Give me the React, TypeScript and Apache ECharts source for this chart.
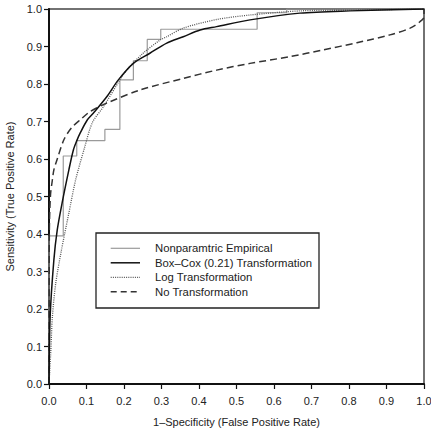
import React, { useEffect, useRef } from "react";
import * as echarts from "echarts";

// Empirical (step) ROC vertices
const fprEmpirical = [0, 0, 0.038, 0.074, 0.149, 0.189, 0.225, 0.262, 0.298, 0.555, 0.634, 1.0];
const tprEmpirical = [0, 0.395, 0.608, 0.649, 0.679, 0.811, 0.862, 0.919, 0.946, 0.99, 1.0, 1.0];

// Box-Cox (0.21) smooth ROC
const fprBoxCox = [0, 0.003, 0.013, 0.022, 0.035, 0.053, 0.065, 0.075, 0.083, 0.102, 0.118, 0.154, 0.185, 0.225, 0.269, 0.314, 0.358, 0.403, 0.447, 0.536, 0.669, 0.803, 1.0];
const tprBoxCox = [0, 0.179, 0.331, 0.411, 0.483, 0.571, 0.624, 0.651, 0.669, 0.704, 0.722, 0.766, 0.811, 0.855, 0.882, 0.909, 0.926, 0.944, 0.953, 0.971, 0.989, 0.995, 1.0];

// Log transformation ROC
const fprLog = [0, 0.005, 0.009, 0.018, 0.033, 0.053, 0.071, 0.095, 0.116, 0.145, 0.189, 0.207, 0.251, 0.296, 0.314, 0.358, 0.447, 0.536, 0.669, 0.803, 1.0];
const tprLog = [0, 0.091, 0.179, 0.269, 0.356, 0.456, 0.544, 0.631, 0.698, 0.739, 0.811, 0.837, 0.882, 0.917, 0.926, 0.949, 0.972, 0.984, 0.995, 0.997, 1.0];

// Untransformed ROC
const fprNone = [0, 0.0005, 0.001, 0.004, 0.009, 0.013, 0.022, 0.04, 0.06, 0.085, 0.109, 0.154, 0.243, 0.358, 0.447, 0.536, 0.643, 0.731, 0.821, 0.909, 0.963, 0.989, 1.0, 1.0];
const tprNone = [0, 0.224, 0.411, 0.504, 0.544, 0.571, 0.6, 0.652, 0.683, 0.706, 0.726, 0.749, 0.784, 0.815, 0.837, 0.855, 0.873, 0.891, 0.91, 0.931, 0.949, 0.966, 0.979, 1.0];

const seriesNames = [
  "Nonparamtric Empirical",
  "Box\u2013Cox (0.21) Transformation",
  "Log Transformation",
  "No Transformation",
];

const axisTicks = [0, 0.1, 0.2, 0.3, 0.4, 0.5, 0.6, 0.7, 0.8, 0.9, 1.0];

const FONT = "'Liberation Sans', Arial, sans-serif";

// Line looks shared by the plotted series and the hand-drawn key
const lineLooks = [
  { color: "#9a9a9a", width: 1.2, dash: null as number[] | null },
  { color: "#111", width: 1.5, dash: null as number[] | null },
  { color: "#555", width: 1.3, dash: [1, 1.2] },
  { color: "#333", width: 1.5, dash: [7, 4] },
];

const zip = (xs: number[], ys: number[]) => xs.map((x, i) => [x, ys[i]]);

export default function App() {
  const ref = useRef<HTMLDivElement>(null);

  useEffect(() => {
    if (!ref.current) return;
    const chart = echarts.init(ref.current, undefined, { renderer: "svg" });

    const axisCommon = {
      type: "value" as const,
      min: axisTicks[0],
      max: axisTicks[axisTicks.length - 1],
      interval: 0.1,
      nameLocation: "middle" as const,
      nameTextStyle: { fontFamily: FONT, fontSize: 11, color: "#222" },
      axisLine: { show: true, lineStyle: { color: "#111", width: 2 } },
      axisTick: { show: true, inside: false, length: 5, lineStyle: { color: "#111", width: 1.2 } },
      axisLabel: {
        fontFamily: FONT,
        fontSize: 11,
        color: "#222",
        formatter: (v: number) => v.toFixed(1),
      },
      splitLine: { show: false },
    };

    // Key box, drawn as graphics
    const keyLeft = 96;
    const keyTop = 233;
    const keyW = 223;
    const keyH = 75;
    const rowY0 = 248.3;
    const rowStep = 14.5;
    const keyGraphics: any[] = [
      {
        type: "rect",
        shape: { x: keyLeft, y: keyTop, width: keyW, height: keyH },
        style: { fill: "#fff", stroke: "#222", lineWidth: 1.3 },
        z: 10,
      },
    ];
    seriesNames.forEach((name, i) => {
      const y = rowY0 + i * rowStep;
      const look = lineLooks[i];
      keyGraphics.push({
        type: "line",
        shape: { x1: 110.7, y1: y, x2: 140, y2: y },
        style: {
          stroke: look.color,
          lineWidth: look.width,
          lineDash: look.dash ? (i === 3 ? [6, 4] : look.dash) : null,
        },
        z: 11,
      });
      keyGraphics.push({
        type: "text",
        x: 155,
        y,
        style: {
          text: name,
          fontFamily: FONT,
          fontSize: 11.3,
          fill: "#222",
          verticalAlign: "middle",
          align: "left",
        },
        z: 11,
      });
    });

    chart.setOption({
      animation: false,
      backgroundColor: "#fff",
      grid: {
        left: 49,
        right: 7,
        top: 9,
        bottom: 44,
        show: true,
        borderColor: "#444",
        borderWidth: 1.5,
        backgroundColor: "transparent",
        outerBoundsMode: "none",
        containLabel: false,
      },
      xAxis: {
        ...axisCommon,
        name: "1\u2013Specificity (False Positive Rate)",
        nameGap: 32,
        axisLabel: { ...axisCommon.axisLabel, margin: 11 },
      },
      yAxis: {
        ...axisCommon,
        name: "Sensitivity (True Positive Rate)",
        nameGap: 33,
        axisLabel: { ...axisCommon.axisLabel, margin: 7 },
      },
      graphic: keyGraphics,
      series: [
        {
          name: seriesNames[0],
          type: "line",
          step: "end",
          symbol: "none",
          data: zip(fprEmpirical, tprEmpirical),
          lineStyle: { color: lineLooks[0].color, width: lineLooks[0].width },
          z: 2,
        },
        {
          name: seriesNames[1],
          type: "line",
          smooth: 0.3,
          symbol: "none",
          data: zip(fprBoxCox, tprBoxCox),
          lineStyle: { color: lineLooks[1].color, width: lineLooks[1].width },
          z: 4,
        },
        {
          name: seriesNames[2],
          type: "line",
          smooth: 0.3,
          symbol: "none",
          data: zip(fprLog, tprLog),
          lineStyle: { color: lineLooks[2].color, width: lineLooks[2].width, type: lineLooks[2].dash },
          z: 3,
        },
        {
          name: seriesNames[3],
          type: "line",
          smooth: 0.3,
          symbol: "none",
          data: zip(fprNone, tprNone),
          lineStyle: { color: lineLooks[3].color, width: lineLooks[3].width, type: lineLooks[3].dash },
          z: 3,
        },
      ],
    });

    return () => chart.dispose();
  }, []);

  return (
    <div
      ref={ref}
      style={{ position: "fixed", left: 0, top: 0, width: 431, height: 428, background: "#fff" }}
    />
  );
}
